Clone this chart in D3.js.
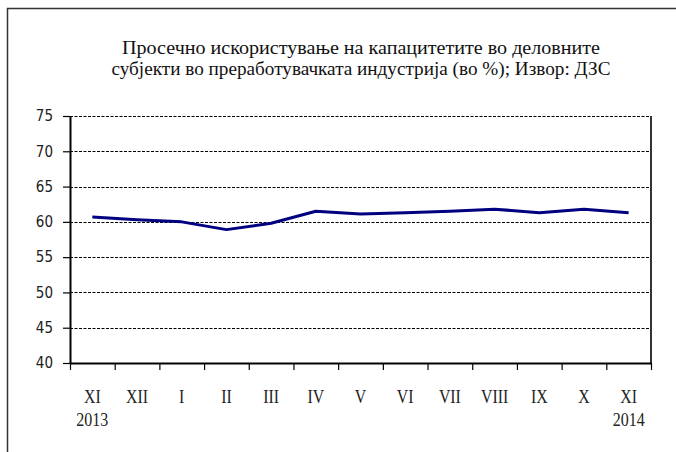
<!DOCTYPE html>
<html>
<head>
<meta charset="utf-8">
<script src="https://cdn.jsdelivr.net/npm/d3@7"></script>
<style>
  body { margin: 0; background: #fff; }
  svg { display: block; }
</style>
</head>
<body>
<div class="graph"></div>
<script>
const width = 676;
const height = 452;
const margin = { top: 116, right: 25, bottom: 89, left: 70 };

const titleLines = [
  "Просечно искористување на капацитетите во деловните",
  "субјекти во преработувачката индустрија (во %); Извор: ДЗС"
];
const months = ["XI", "XII", "I", "II", "III", "IV", "V", "VI", "VII", "VIII", "IX", "X", "XI"];
const years = ["2013", "", "", "", "", "", "", "", "", "", "", "", "2014"];
const values = [60.7, 60.3, 60.0, 58.9, 59.8, 61.5, 61.1, 61.3, 61.5, 61.8, 61.3, 61.8, 61.3];
const yTicks = [40, 45, 50, 55, 60, 65, 70, 75];

const canvas = d3.select(".graph")
  .append("svg")
  .attr("width", width)
  .attr("height", height);

// outer frame (only top and left are visible in the crop)
canvas.append("path")
  .attr("d", `M7.5,${height} V8.5 H${width}`)
  .attr("fill", "none")
  .attr("stroke", "#333")
  .attr("stroke-width", 1.5);

canvas.append("g")
  .selectAll("text")
  .data(titleLines)
  .enter().append("text")
  .attr("x", 361)
  .attr("y", (d, i) => 54 + i * 21)
  .attr("text-anchor", "middle")
  .attr("textLength", (d, i) => i === 0 ? 478 : 499)
  .attr("lengthAdjust", "spacingAndGlyphs")
  .style("font-family", "'Liberation Serif', serif")
  .style("font-size", "19px")
  .attr("fill", "#111")
  .text(d => d);

const x = d3.scaleBand()
  .domain(d3.range(months.length))
  .range([margin.left, width - margin.right])
  .padding(0);

const y = d3.scaleLinear()
  .domain([40, 75])
  .range([height - margin.bottom, margin.top]);

// dashed gridlines
canvas.append("g")
  .selectAll("line")
  .data(yTicks.slice(1))
  .enter().append("line")
  .attr("x1", margin.left)
  .attr("x2", width - margin.right)
  .attr("y1", d => Math.round(y(d)) + 0.5)
  .attr("y2", d => Math.round(y(d)) + 0.5)
  .attr("stroke", "#000")
  .attr("stroke-width", 1)
  .attr("stroke-dasharray", "3,1.5");

// right edge of plot
canvas.append("line")
  .attr("x1", width - margin.right)
  .attr("x2", width - margin.right)
  .attr("y1", y(75))
  .attr("y2", y(40))
  .attr("stroke", "#333")
  .attr("stroke-width", 2);

// y axis
const yAxis = d3.axisLeft(y)
  .tickValues(yTicks)
  .tickSize(7)
  .tickSizeOuter(0)
  .tickPadding(10);

const gy = canvas.append("g")
  .attr("transform", `translate(${margin.left}, 0)`)
  .call(yAxis);
gy.select(".domain").attr("stroke", "#000").attr("stroke-width", 2);
gy.selectAll(".tick line").attr("stroke", "#000").attr("stroke-width", 1.2);
gy.selectAll(".tick text")
  .style("font-family", "'DejaVu Sans Condensed', 'DejaVu Sans', sans-serif")
  .style("font-size", "15px")
  .attr("fill", "#222");

// x axis: ticks on band boundaries
const xb = d3.scaleLinear()
  .domain([0, months.length])
  .range([margin.left, width - margin.right]);

const xAxis = d3.axisBottom(xb)
  .tickValues(d3.range(months.length + 1))
  .tickFormat("")
  .tickSize(7)
  .tickSizeOuter(0);

const gx = canvas.append("g")
  .attr("transform", `translate(0, ${height - margin.bottom})`)
  .call(xAxis);
gx.select(".domain").attr("stroke", "#000").attr("stroke-width", 2);
gx.selectAll(".tick line").attr("stroke", "#000").attr("stroke-width", 1.2);

const labels = canvas.append("g")
  .style("font-family", "'Liberation Serif', serif")
  .style("font-size", "18px")
  .attr("fill", "#222");

labels.selectAll(".month")
  .data(months)
  .enter().append("text")
  .attr("class", "month")
  .attr("x", (d, i) => x(i) + x.bandwidth() / 2)
  .attr("y", height - margin.bottom + 40)
  .attr("text-anchor", "middle")
  .attr("transform", (d, i) => {
    const cx = x(i) + x.bandwidth() / 2;
    return `translate(${cx},0) scale(0.88,1) translate(${-cx},0)`;
  })
  .text(d => d);

labels.selectAll(".year")
  .data(years)
  .enter().append("text")
  .attr("class", "year")
  .attr("x", (d, i) => x(i) + x.bandwidth() / 2)
  .attr("y", height - margin.bottom + 63)
  .attr("text-anchor", "middle")
  .attr("textLength", d => d ? 32 : null)
  .attr("lengthAdjust", "spacingAndGlyphs")
  .text(d => d);

// series line
const line = d3.line()
  .x((d, i) => x(i) + x.bandwidth() / 2)
  .y(d => y(d));

canvas.append("path")
  .datum(values)
  .attr("d", line)
  .attr("fill", "none")
  .attr("stroke", "#000080")
  .attr("stroke-width", 3)
  .attr("stroke-linejoin", "round");
</script>
</body>
</html>
